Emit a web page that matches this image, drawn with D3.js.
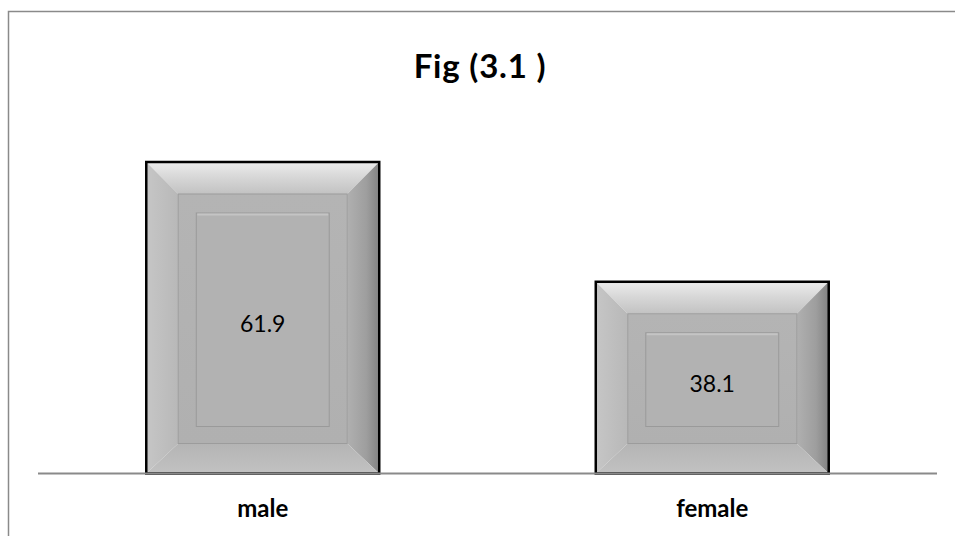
<!DOCTYPE html>
<html>
<head>
<meta charset="utf-8">
<script src="https://cdn.jsdelivr.net/npm/d3@7"></script>
<style>
  html, body { margin: 0; padding: 0; background: #fff; }
  svg { display: block; }
</style>
</head>
<body>
<svg id="chart" width="955" height="536"></svg>
<script>
const categories = ["male", "female"];
const values = [61.9, 38.1];
const title = "Fig (3.1 )";

const W = 955, H = 536;
const svg = d3.select("#chart");
const FONT = "Lato, 'Open Sans', sans-serif";

// chart frame
svg.append("rect")
  .attr("x", 8.5).attr("y", 11.5)
  .attr("width", 1000).attr("height", 1000)
  .attr("fill", "#fff").attr("stroke", "#8a8a8a").attr("stroke-width", 1.5);

const plot = { left: 38, right: 937, bottom: 473.5 };
const x = d3.scaleBand().domain(categories)
  .range([plot.left, plot.right])
  .paddingInner(0.4817).paddingOuter(0.4817 / 2);
const y = d3.scaleLinear().domain([0, 70]).range([plot.bottom, plot.bottom - 70 * (311.5 / 61.9)]);

// gradients
const defs = svg.append("defs");
function lin(id, x1, y1, x2, y2, stops) {
  const g = defs.append("linearGradient").attr("id", id)
    .attr("x1", x1).attr("y1", y1).attr("x2", x2).attr("y2", y2);
  stops.forEach(([o, c]) => g.append("stop").attr("offset", o).attr("stop-color", c));
}
lin("gTop", 0, 0, 0, 1, [[0, "#ececec"], [0.5, "#d6d6d6"], [1, "#c2c2c2"]]);
lin("gLeft", 0, 0, 1, 0, [[0, "#c6c6c6"], [1, "#b8b8b8"]]);
lin("gRight", 0, 0, 1, 0, [[0, "#b0b0b0"], [0.6, "#9e9e9e"], [1, "#828282"]]);
lin("gBottom", 0, 0, 0, 1, [[0, "#b4b4b4"], [1, "#c2c2c2"]]);
lin("gMid", 0, 0, 0, 1, [[0, "#b4b4b4"], [1, "#b0b0b0"]]);

const bevel = 32, bevelB = 30, inset = 18;

svg.append("g").selectAll("g").data(categories).join("g")
  .each(function (c, i) {
    const g = d3.select(this);
    const x0 = x(c), x1 = x(c) + x.bandwidth();
    const y0 = y(values[i]), y1 = y(0);
    const bx0 = x0 + bevel, bx1 = x1 - bevel, by0 = y0 + bevel, by1 = y1 - bevelB;
    const pts = a => a.map(p => p.join(",")).join(" ");
    g.append("polygon").attr("points", pts([[x0, y0], [x1, y0], [bx1, by0], [bx0, by0]])).attr("fill", "url(#gTop)");
    g.append("polygon").attr("points", pts([[x0, y0], [bx0, by0], [bx0, by1], [x0, y1]])).attr("fill", "url(#gLeft)");
    g.append("polygon").attr("points", pts([[x1, y0], [x1, y1], [bx1, by1], [bx1, by0]])).attr("fill", "url(#gRight)");
    g.append("polygon").attr("points", pts([[x0, y1], [bx0, by1], [bx1, by1], [x1, y1]])).attr("fill", "url(#gBottom)");
    // middle panel
    g.append("rect").attr("x", bx0).attr("y", by0).attr("width", bx1 - bx0).attr("height", by1 - by0)
      .attr("fill", "url(#gMid)").attr("stroke", "#9c9c9c").attr("stroke-width", 1);
    // inner panel
    const ix0 = bx0 + inset, iy0 = by0 + inset + 1, ix1 = bx1 - inset, iy1 = by1 - inset + 1;
    g.append("rect").attr("x", ix0).attr("y", iy0).attr("width", ix1 - ix0).attr("height", iy1 - iy0)
      .attr("fill", "#b2b2b2").attr("stroke", "#9a9a9a").attr("stroke-width", 1);
    g.append("line").attr("x1", ix0 + 1).attr("x2", ix1 - 1).attr("y1", iy0 + 1.5).attr("y2", iy0 + 1.5)
      .attr("stroke", "#c4c4c4").attr("stroke-width", 2);
    // outer border
    g.append("rect").attr("x", x0).attr("y", y0).attr("width", x1 - x0).attr("height", y1 - y0)
      .attr("fill", "none").attr("stroke", "#000").attr("stroke-width", 2.5);
    // value label
    g.append("text").attr("x", (x0 + x1) / 2).attr("y", (y0 + y1) / 2 + 14)
      .attr("text-anchor", "middle").attr("font-family", FONT).attr("font-size", 23)
      .attr("fill", "#000").text(values[i]);
  });

// x axis
const xAxis = svg.append("g").attr("transform", `translate(0,${plot.bottom})`)
  .call(d3.axisBottom(x).tickSize(0).tickPadding(26));
xAxis.select(".domain").attr("stroke", "#8a8a8a").attr("stroke-width", 2)
  .attr("d", `M${plot.left},0H${plot.right}`);
xAxis.selectAll(".tick text").attr("font-family", FONT).attr("font-size", 24)
  .attr("font-weight", "bold").attr("fill", "#000").attr("dy", "0.71em");

// title
svg.append("text").attr("x", 480).attr("y", 78).attr("text-anchor", "middle")
  .attr("font-family", FONT).attr("font-weight", "bold").attr("font-size", 33)
  .attr("letter-spacing", 0.8)
  .attr("fill", "#000").text(title);
</script>
</body>
</html>
